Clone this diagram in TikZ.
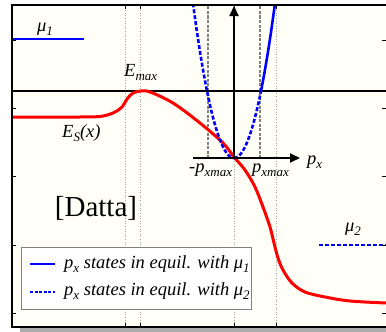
\documentclass[tikz,border=0pt]{standalone}
\usepackage{fontspec}
\setmainfont{Liberation Serif}
\usetikzlibrary{arrows.meta}
\definecolor{cream}{RGB}{255,255,247}
\newcommand\mysb[1]{\raisebox{-0.5ex}{\fontsize{13}{15}\selectfont #1}}
\tikzset{
  frameline/.style={line width=2.2pt,black},
  vdot/.style={gray!70, line width=0.6pt, dotted},
  gdash/.style={gray, line width=1.1pt, dash pattern=on 3pt off 1.5pt},
  redcurve/.style={red, line width=3pt},
  bsolid/.style={blue, line width=2.6pt},
  bdash/.style={blue, line width=2.6pt, dash pattern=on 4pt off 2pt},
  lbl/.style={font=\fontsize{18.5}{21}\selectfont\itshape, inner sep=0pt},
  axarrow/.style={line width=2pt, -{Triangle[length=10pt,width=9pt]}},
  tick/.style={line width=1pt, black},
}
\begin{document}
\begin{tikzpicture}[x=1pt,y=-1pt]
\useasboundingbox (0,0) rectangle (386,332);
% background and shadow
\fill[gray!65] (20,327) rectangle (386,332);
\fill[cream] (12,5) rectangle (386,327);
\begin{scope}
\clip (12,5) rectangle (386,327);
% dotted verticals
\foreach \xx in {125,140,234,276} \draw[vdot] (\xx,5) -- (\xx,327);
% dashed gray verticals
\coordinate (pm) at (208,158);
\coordinate (pp) at (260,158);
\draw[gdash] (pm) -- (208,5);
\draw[gdash] (pp) -- (260,5);
% Emax horizontal line
\coordinate (hl) at (12,91);
\coordinate (hr) at (386,91);
\draw[line width=1.1pt] (hl) -- (hr);
% mu lines
\coordinate (m1a) at (12,39);
\coordinate (m1b) at (84,39);
\draw[bsolid] (m1a) -- (m1b);
\coordinate (m2a) at (319,245);
\coordinate (m2b) at (386,245);
\draw[bdash] (m2a) -- (m2b);
% red curve
\draw[redcurve] plot[smooth, tension=0.55] coordinates {
 (12,117) (80,117) (100,116.5) (113,113) (122,107) (127,99) (133,93) (141,91) (150,92)
 (173,103) (200,123) (223,143) (234,157) (245,170) (255,187) (263,207) (270,227)
 (274,243) (278,258) (283,270) (292,283) (305,292) (325,297) (350,301) (386,303)};
% parabola
\draw[bdash] plot[domain=193:234, samples=50] (\x, {158-0.092*(\x-234)*(\x-234)});
\draw[bdash] plot[domain=234:261, samples=40] (\x, {158-0.092*(\x-234)*(\x-234)});
\draw[bsolid] plot[domain=261:277, samples=30] (\x, {158-0.092*(\x-234)*(\x-234)});
% ticks
\foreach \yy in {40,108,176,245,313} {
  \draw[tick] (12,\yy) -- (16,\yy);
  \draw[tick] (386,\yy) -- (382,\yy);
}
\foreach \xx in {125,140,234,276} {
  \draw[tick] (\xx,5) -- (\xx,9);
  \draw[tick] (\xx,327) -- (\xx,323);
}
\end{scope}
% axes
\coordinate (O) at (234,158);
\coordinate (axl) at (193,158);
\coordinate (axr) at (300,158);
\coordinate (axt) at (234,6);
\draw[axarrow] (axl) -- (axr);
\draw[axarrow] (O) -- (axt);
% frame
\draw[frameline] (386,5) -- (12,5) -- (12,327) -- (386,327);
% labels
\node[lbl, anchor=base west] (mu1) at (37,31) {μ\mysb{1}};
\node[lbl, anchor=base west] (emax) at (124,76) {E\mysb{max}};
\node[lbl, anchor=base west] (es) at (62,137) {E\mysb{S}(x)};
\node[lbl, anchor=base west] (mpx) at (189,172) {-p\mysb{xmax}};
\node[lbl, anchor=base west] (ppx) at (252,172) {p\mysb{xmax}};
\node[lbl, anchor=base west] (px) at (307,164) {p\mysb{x}};
\node[lbl, anchor=base west] (mu2) at (345,231) {μ\mysb{2}};
\node[font=\fontsize{29}{32}\selectfont, inner sep=0pt] (datta) at (96,208) {[Datta]};
% legend
\node[draw=gray, line width=0.8pt, fill=white, minimum width=230pt, minimum height=62pt, inner sep=0pt] (leg) at (136,278) {};
\coordinate (l1a) at (30,264); \coordinate (l1b) at (55,264);
\coordinate (l2a) at (30,292); \coordinate (l2b) at (55,292);
\draw[bsolid] (l1a) -- (l1b);
\draw[blue, line width=2.6pt, dash pattern=on 3pt off 1.5pt] (l2a) -- (l2b);
\node[lbl, anchor=base west] (lt1) at (64,268) {p\mysb{x} states in equil. with μ\mysb{1}};
\node[lbl, anchor=base west] (lt2) at (64,295) {p\mysb{x} states in equil. with μ\mysb{2}};
\end{tikzpicture}
\end{document}
